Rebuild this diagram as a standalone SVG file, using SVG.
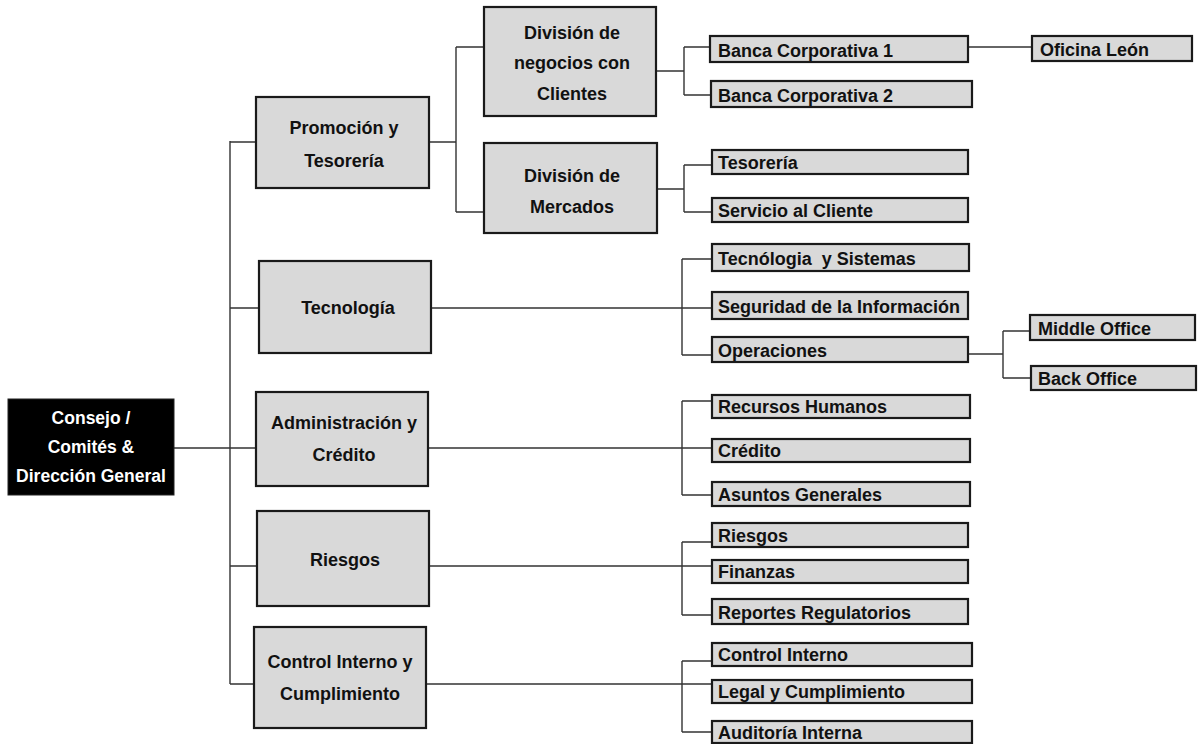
<svg xmlns="http://www.w3.org/2000/svg" width="1198" height="744" viewBox="0 0 1198 744">
<style>
.big{fill:#d9d9d9;stroke:#1a1a1a;stroke-width:2.2}
.sub{fill:#d9d9d9;stroke:#1a1a1a;stroke-width:2.2}
.root{fill:#000;stroke:#222;stroke-width:1}
.t{font-family:"Liberation Sans",Arial,sans-serif;font-weight:bold;font-size:18px;fill:#111}
.c{text-anchor:middle}
.w{fill:#fff;font-size:17.5px}
#connectors path{fill:none;stroke:#333;stroke-width:1.4}
</style>
<rect width="1198" height="744" fill="#fff"/>
<g id="connectors">
<path d="M174,448H230M230,141V684M230,142H256M230,308H259M230,448H256M230,566H257M230,684H254"/>
<path d="M429,142H456M456,47V212M456,47H484M456,212H484"/>
<path d="M656,71H684M684,47V95M684,47H710M684,95H711"/>
<path d="M968,47H1032"/>
<path d="M657,189H684M684,165V212M684,165H712M684,212H712"/>
<path d="M431,308H712M682,259V355M682,259H712M682,355H712"/>
<path d="M968,354H1003M1003,331V378M1003,331H1030M1003,378H1031"/>
<path d="M428,448H712M682,401V495M682,401H712M682,495H712"/>
<path d="M429,566H712M682,542V615M682,542H712M682,615H712"/>
<path d="M426,684H712M682,661V732M682,661H712M682,732H712"/>
</g>
<g id="root"><rect class="root" x="8" y="399" width="166" height="96"/>
<text class="t c w" x="91" y="424">Consejo /</text><text class="t c w" x="91" y="453">Comités &amp;</text><text class="t c w" x="91" y="482">Dirección General</text></g>
<g id="promocion"><rect class="big" x="256" y="97" width="173" height="91"/>
<text class="t c" x="344" y="134">Promoción y</text><text class="t c" x="344" y="167">Tesorería</text></g>
<g id="div-negocios"><rect class="big" x="484" y="7" width="172" height="109"/>
<text class="t c" x="572" y="39">División de</text><text class="t c" x="572" y="69">negocios con</text><text class="t c" x="572" y="100">Clientes</text></g>
<g id="div-mercados"><rect class="big" x="484" y="143" width="173" height="90"/>
<text class="t c" x="572" y="182">División de</text><text class="t c" x="572" y="213">Mercados</text></g>
<g id="tecnologia"><rect class="big" x="259" y="261" width="172" height="92"/>
<text class="t c" x="348" y="314">Tecnología</text></g>
<g id="administracion"><rect class="big" x="256" y="392" width="172" height="94"/>
<text class="t c" x="344" y="429">Administración y</text><text class="t c" x="344" y="461">Crédito</text></g>
<g id="riesgos"><rect class="big" x="257" y="511" width="172" height="95"/>
<text class="t c" x="345" y="566">Riesgos</text></g>
<g id="control"><rect class="big" x="254" y="627" width="172" height="101"/>
<text class="t c" x="340" y="668">Control Interno y</text><text class="t c" x="340" y="700">Cumplimiento</text></g>
<g id="banca1"><rect class="sub" x="710" y="36" width="258" height="26"/><text class="t" x="718" y="57">Banca Corporativa 1</text></g>
<g id="banca2"><rect class="sub" x="711" y="81" width="261" height="26"/><text class="t" x="718" y="102">Banca Corporativa 2</text></g>
<g id="oficina-leon"><rect class="sub" x="1032" y="36" width="160" height="25"/><text class="t" x="1040" y="56">Oficina León</text></g>
<g id="tesoreria"><rect class="sub" x="712" y="150" width="256" height="24"/><text class="t" x="718" y="169">Tesorería</text></g>
<g id="servicio"><rect class="sub" x="712" y="198" width="256" height="24"/><text class="t" x="718" y="217">Servicio al Cliente</text></g>
<g id="tec-sistemas"><rect class="sub" x="712" y="244" width="257" height="27"/><text class="t" x="718" y="265">Tecnólogia&#160; y Sistemas</text></g>
<g id="seguridad"><rect class="sub" x="712" y="292" width="256" height="27"/><text class="t" x="718" y="313">Seguridad de la Información</text></g>
<g id="operaciones"><rect class="sub" x="712" y="337" width="256" height="25"/><text class="t" x="718" y="357">Operaciones</text></g>
<g id="middle-office"><rect class="sub" x="1030" y="315" width="165" height="25"/><text class="t" x="1038" y="335">Middle Office</text></g>
<g id="back-office"><rect class="sub" x="1031" y="366" width="165" height="24"/><text class="t" x="1038" y="385">Back Office</text></g>
<g id="recursos"><rect class="sub" x="712" y="395" width="258" height="23"/><text class="t" x="718" y="413">Recursos Humanos</text></g>
<g id="credito"><rect class="sub" x="712" y="439" width="258" height="23"/><text class="t" x="718" y="457">Crédito</text></g>
<g id="asuntos"><rect class="sub" x="712" y="482" width="258" height="24"/><text class="t" x="718" y="501">Asuntos Generales</text></g>
<g id="riesgos-sub"><rect class="sub" x="712" y="523" width="256" height="24"/><text class="t" x="718" y="542">Riesgos</text></g>
<g id="finanzas"><rect class="sub" x="712" y="560" width="256" height="23"/><text class="t" x="718" y="578">Finanzas</text></g>
<g id="reportes"><rect class="sub" x="712" y="599" width="256" height="25"/><text class="t" x="718" y="619">Reportes Regulatorios</text></g>
<g id="control-interno"><rect class="sub" x="712" y="643" width="260" height="23"/><text class="t" x="718" y="661">Control Interno</text></g>
<g id="legal"><rect class="sub" x="712" y="680" width="260" height="23"/><text class="t" x="718" y="698">Legal y Cumplimiento</text></g>
<g id="auditoria"><rect class="sub" x="712" y="721" width="260" height="22"/><text class="t" x="718" y="739">Auditoría Interna</text></g>
</svg>
